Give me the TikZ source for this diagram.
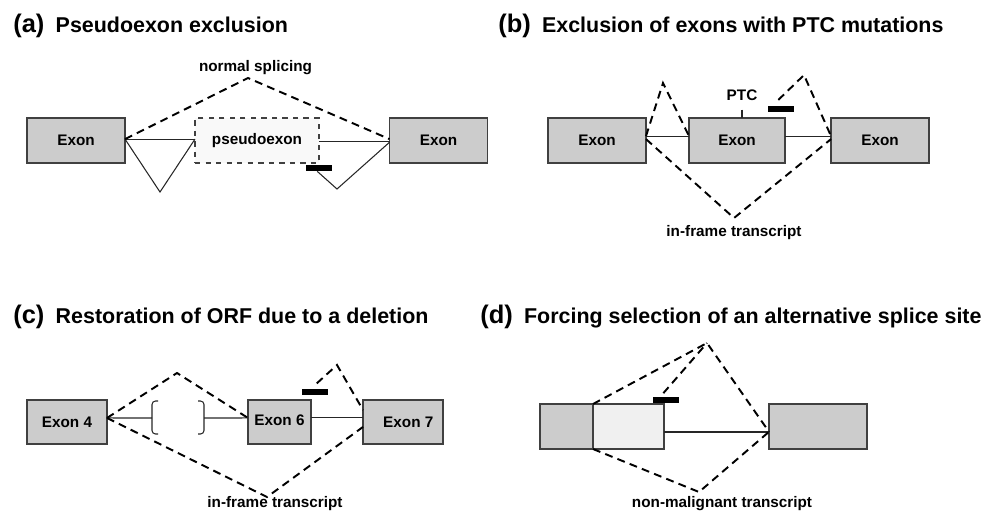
\documentclass[tikz,border=0pt]{standalone}
\usepackage{fontspec}
\setmainfont{Liberation Sans}
\usepackage{tikz}
\usetikzlibrary{positioning}
\tikzset{
  exon/.style={
    draw=black!75,
    fill=gray!40,
    line width=0.7pt,
    inner sep=0pt,
    outer sep=0pt,
    minimum height=0.9cm,
    font=\bfseries\fontsize{8.7}{10}\selectfont
  },
  splice/.style={
    line width=1.1pt,
    dash pattern=on 4.5pt off 3pt,
    line join=miter
  },
  intron/.style={
    line width=0.6pt,
    color=black!85
  },
  blocker/.style={
    rectangle,
    fill=black,
    inner sep=0pt,
    minimum width=0.52cm,
    minimum height=0.12cm
  },
  caption/.style={
    font=\bfseries\fontsize{8.7}{10}\selectfont,
    inner sep=1pt
  },
  panel title/.style={
    anchor=base west,
    inner sep=0pt,
    font=\bfseries\fontsize{12.2}{14}\selectfont
  }
}
\newcommand{\panelmark}[1]{{\fontsize{14.5}{16}\selectfont #1}\hspace{3pt}}

\begin{document}
\begin{tikzpicture}[x=0.02cm, y=-0.02cm]
    \useasboundingbox (0,0) rectangle (1000,514);

    % (a) pseudoexon exclusion
    \node[panel title] (titleA) at (13,32) {\panelmark{(a)} Pseudoexon exclusion};
    \node[exon, minimum width=1.96cm] (exA1) at (76,140.5) {Exon};
    \node[exon, minimum width=2.48cm, fill=gray!5, dashed] (pseudo) at (257,140.5) {pseudoexon};
    \node[exon, minimum width=1.96cm] (exA2) at (438.5,140.5) {Exon};
    \node[blocker] (barA) at (319,168) {};
    \node[caption] (normal) at (255.5,68) {normal splicing};
    \coordinate (apexA) at (248,78);
    \coordinate (dipA1) at (160,192);
    \coordinate (dipA2) at (337,189);
    \draw[intron] ([yshift=0.8pt]exA1.east) -- ([yshift=0.8pt]pseudo.west);
    \draw[intron] ([yshift=-0.8pt]pseudo.east) -- ([yshift=-0.8pt]exA2.west);
    \draw[intron] ([yshift=0.8pt]exA1.east) -- (dipA1) -- ([yshift=0.8pt]pseudo.west);
    \draw[intron] ([xshift=-1pt]barA.south) -- (dipA2) -- ([yshift=-1pt]exA2.west);
    \draw[splice] ([yshift=0.8pt]exA1.east) -- (apexA) -- ([yshift=0.8pt]exA2.west);

    % (b) exclusion of exons with PTC mutations
    \node[panel title] (titleB) at (498,32) {\panelmark{(b)} Exclusion of exons with PTC mutations};
    \node[exon, minimum width=1.96cm] (exB1) at (597,140.5) {Exon};
    \node[exon, minimum width=1.92cm] (exB2) at (737,140.5) {Exon};
    \node[exon, minimum width=1.96cm] (exB3) at (880,140.5) {Exon};
    \node[caption] (ptc) at (742,95) {PTC};
    \node[blocker] (barB) at (781,108.5) {};
    \node[caption] (inframeB) at (734,233) {in-frame transcript};
    \coordinate (apexB1) at (663,83);
    \coordinate (apexB2) at (804,75);
    \coordinate (dipB) at (734,218);
    \draw[intron] ([yshift=2.5pt]exB1.east) -- ([yshift=2.5pt]exB2.west);
    \draw[intron] ([yshift=2.5pt]exB2.east) -- ([yshift=2.5pt]exB3.west);
    \draw[intron] ([yshift=-4pt]ptc.south) -- (ptc.south |- exB2.north);
    \draw[splice] ([yshift=2.5pt]exB1.east) -- (apexB1) -- ([yshift=2.5pt]exB2.west);
    \draw[splice] ([xshift=-1.5pt,yshift=3pt]barB.north) -- (apexB2) -- ([yshift=2.5pt]exB3.west);
    \draw[splice] ([yshift=0.8pt]exB1.east) -- (dipB) -- ([yshift=0.8pt]exB3.west);

    % (c) restoration of ORF due to a deletion
    \node[panel title] (titleC) at (13,323) {\panelmark{(c)} Restoration of ORF due to a deletion};
    \node[exon, minimum width=1.6cm, minimum height=0.88cm] (exC4) at (67,422) {Exon 4};
    \node[exon, minimum width=1.26cm, minimum height=0.88cm] (exC6) at (279.5,422) {\raisebox{2.5pt}{Exon 6}};
    \node[exon, minimum width=1.6cm, minimum height=0.88cm] (exC7) at (403,422) {\hspace*{6pt}Exon 7};
    \node[blocker] (barC) at (315,392) {};
    \node[caption] (inframeC) at (275,504) {in-frame transcript};
    \coordinate (brL) at (152,418);
    \coordinate (brR) at (204,418);
    \coordinate (apexC1) at (177,373);
    \coordinate (apexC2) at (337,365);
    \coordinate (dipC) at (267,497);
    % deleted region
    \draw[intron, rounded corners=2pt] (158,401) -- (152,401) -- (152,434) -- (158,434);
    \draw[intron, rounded corners=2pt] (198,401) -- (204,401) -- (204,434) -- (198,434);
    \draw[intron] ([yshift=2.3pt]exC4.east) -- (brL);
    \draw[intron] (brR) -- ([yshift=2.3pt]exC6.west);
    \draw[intron] ([yshift=2.3pt]exC6.east) -- ([yshift=2.3pt]exC7.west);
    \draw[splice] ([yshift=2.3pt]exC4.east) -- (apexC1) -- ([yshift=2.3pt]exC6.west);
    \draw[splice] ([xshift=1pt,yshift=3pt]barC.north) -- (apexC2) -- ([yshift=-5.7pt]exC7.north west);
    \draw[splice] ([yshift=2.3pt]exC4.east) -- (dipC) -- ([yshift=-2.8pt]exC7.west);

    % (d) forcing selection of an alternative splice site
    \node[panel title] (titleD) at (480,323) {\panelmark{(d)} Forcing selection of an alternative splice site};
    \node[exon, minimum width=1.06cm] (exD1) at (566.5,426.5) {};
    \node[exon, minimum width=1.42cm, fill=gray!12] (exD2) at (628.5,426.5) {};
    \node[exon, minimum width=1.96cm] (exD3) at (818,426.5) {};
    \node[blocker] (barD) at (666,400) {};
    \node[caption] (benign) at (722,504) {non-malignant transcript};
    \coordinate (apexD) at (707,343);
    \coordinate (dipD) at (699,492);
    \draw[intron, line width=1.2pt] ([yshift=-3pt]exD2.east) -- ([yshift=-3pt]exD3.west);
    \draw[splice] (exD1.north east) -- (apexD) -- ([yshift=-3pt]exD3.west);
    \draw[splice] ([xshift=-1.5pt,yshift=2pt]barD.north) -- (apexD);
    \draw[splice] (exD1.south east) -- (dipD) -- ([yshift=-3pt]exD3.west);

\end{tikzpicture}
\end{document}
